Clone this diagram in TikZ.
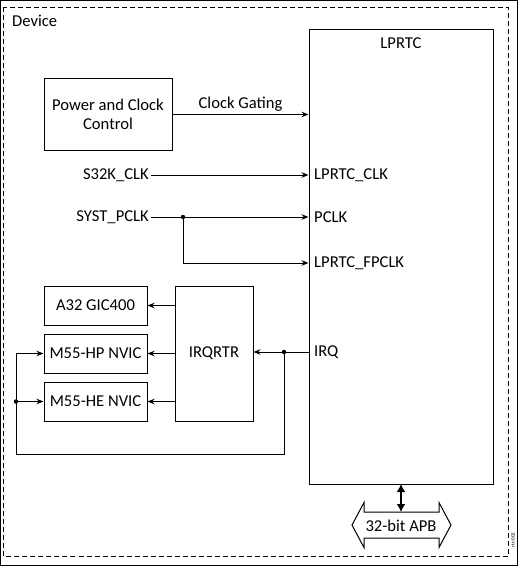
\documentclass[tikz,border=0pt]{standalone}
\usepackage{fontspec}
\setmainfont{Carlito}
\usetikzlibrary{arrows.meta,calc}
\begin{document}
\begin{tikzpicture}[x=1pt,y=-1pt,
  every node/.style={font=\fontsize{16.6}{19.5}\selectfont},
  blk/.style={draw,line width=1pt,inner sep=0pt,align=center},
  lbl/.style={inner sep=2pt},
  conn/.style={line width=1pt},
  arr/.style={conn,-{Stealth[length=7pt,width=5.5pt]}},
  dot/.style={circle,fill,inner sep=0pt,minimum size=4.5pt},
  frame/.style={line width=1pt,dash pattern=on 5pt off 3pt}
]
\useasboundingbox (0,0) rectangle (518,566);
\draw[line width=1pt] (0.5,0.5) rectangle (517.5,565.5);
\draw[frame] (3.5,7) rectangle (508,556);
\node[lbl,anchor=west] (dev) at (10,21) {Device};

% LPRTC block
\node[blk,minimum width=184pt,minimum height=455pt] (lprtc) at (401,256.5) {};
\node[lbl] (lptitle) at (401,43) {LPRTC};
\node[lbl,anchor=west] (lclk) at (312,175) {LPRTC\_CLK};
\node[lbl,anchor=west] (pclk) at (312,217) {PCLK};
\node[lbl,anchor=west] (fpclk) at (312,263) {LPRTC\_FPCLK};
\node[lbl,anchor=west] (irqlbl) at (312,352) {IRQ};

% Power and clock control
\node[blk,minimum width=128pt,minimum height=72pt] (pcc) at (108,114.5) {Power and Clock\\Control};
\draw[arr] (pcc.east) -- (pcc.east -| lprtc.west) node[midway,above=1pt,lbl] (cg) {Clock Gating};

% clocks
\node[lbl,anchor=east] (s32k) at (151,175) {S32K\_CLK};
\node[lbl,anchor=east] (syst) at (151,217) {SYST\_PCLK};
\draw[arr] (s32k.east) -- (s32k.east -| lprtc.west);
\draw[arr] (syst.east) -- (syst.east -| lprtc.west);
\node[dot] (j1) at (183,217) {};
\draw[arr] (j1.center) |- (lprtc.west |- fpclk);

% interrupt targets
\node[blk,minimum width=103pt,minimum height=39pt] (gic) at (95.5,305.5) {A32 GIC400};
\node[blk,minimum width=103pt,minimum height=39pt] (hp) at (95.5,353.5) {M55-HP NVIC};
\node[blk,minimum width=103pt,minimum height=39pt] (he) at (95.5,401.5) {M55-HE NVIC};
\node[blk,minimum width=78pt,minimum height=135pt] (irqr) at (214,353.5) {IRQRTR};

\draw[arr] (irqr.west |- gic) -- (gic.east);
\draw[arr] (irqr.west |- hp) -- (hp.east);
\draw[arr] (irqr.west |- he) -- (he.east);

\coordinate (irqin) at (lprtc.west |- irqlbl);
\draw[arr] (irqin) -- (irqr.east |- irqin);
\node[dot] (j2) at (284,352) {};
\coordinate (bl) at (16,454);
\node[dot] (j3) at (16,401.5) {};
\draw[arr] (j2.center) |- (bl) |- (hp.west);
\draw[arr] (j3.center) -- (he.west);

% APB bus
\node[lbl] (apb) at (401,526) {32-bit APB};
\draw[line width=1pt,line join=miter]
  (352,525) -- (364,502.5) -- (364,512) -- (439,512) -- (439,502.5) -- (451,525)
  -- (439,547.5) -- (439,538) -- (364,538) -- (364,547.5) -- cycle;
\coordinate (apbtop) at (401,512);
\draw[line width=2.5pt,{Latex[length=8pt,width=9pt]}-{Latex[length=8pt,width=9pt]}] (lprtc.south |- 0,484) -- (apbtop);

\node[inner sep=0pt,rotate=90,font=\fontsize{5}{5}\selectfont] (figid) at (513,540) {rtc-002};
\end{tikzpicture}
\end{document}
